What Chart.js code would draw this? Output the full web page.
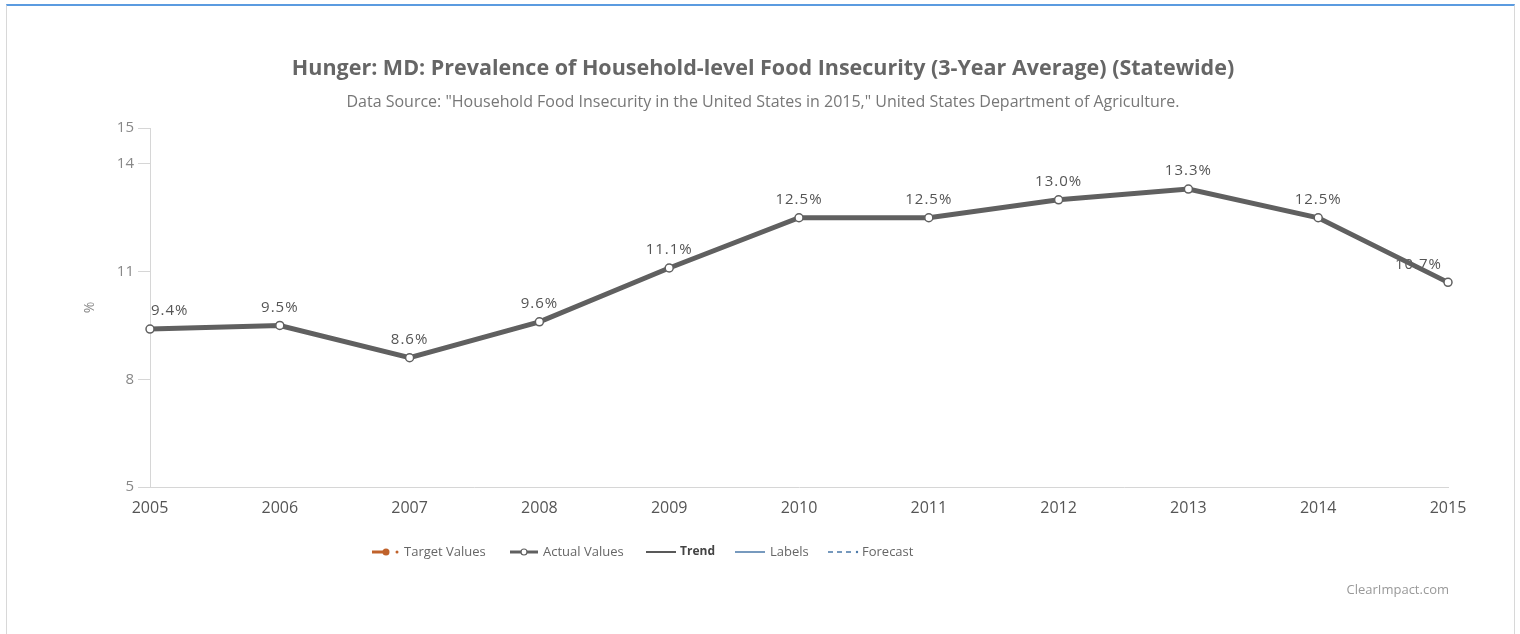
<!DOCTYPE html>
<html>
<head>
<meta charset="utf-8">
<script src="https://cdn.jsdelivr.net/npm/chart.js@4"></script>
<style>
  html, body { margin: 0; padding: 0; background: #fff; }
  #frame {
    position: absolute; left: 6px; top: 4px; width: 1509px; height: 630px;
    border-top: 2px solid #5b9be0; border-left: 1px solid #d8d8d8; border-right: 1px solid #d8d8d8;
    box-sizing: border-box;
  }
  #wrap { position: absolute; left: 0; top: 0; width: 1520px; height: 634px; }
</style>
</head>
<body>
<div id="frame"></div>
<div id="wrap"><canvas id="food_chart" width="1520" height="634"></canvas></div>
<script>
// data
const years = ['2005', '2006', '2007', '2008', '2009', '2010', '2011', '2012', '2013', '2014', '2015'];
const actualValues = [9.4, 9.5, 8.6, 9.6, 11.1, 12.5, 12.5, 13.0, 13.3, 12.5, 10.7];
const yTicks = [5, 8, 11, 14, 15];
const legendNames = ['Target Values', 'Actual Values', 'Trend', 'Labels', 'Forecast'];

const titleText = 'Hunger: MD: Prevalence of Household-level Food Insecurity (3-Year Average) (Statewide)';
const subtitleText = 'Data Source: "Household Food Insecurity in the United States in 2015," United States Department of Agriculture.';

const FONT = "'Open Sans', 'Noto Sans', sans-serif";

// value labels above points, drawn under the line like the original
const valueLabels = {
    id: 'valueLabels',
    beforeDatasetsDraw(chart) {
        const ctx = chart.ctx;
        const area = chart.chartArea;
        const meta = chart.getDatasetMeta(0);
        ctx.save();
        ctx.font = '15px ' + FONT;
        ctx.letterSpacing = '1px';
        ctx.fillStyle = '#555';
        ctx.textAlign = 'center';
        ctx.textBaseline = 'middle';
        meta.data.forEach((pt, i) => {
            const txt = actualValues[i].toFixed(1) + '%';
            const w = ctx.measureText(txt).width;
            let x = pt.x;
            x = Math.max(x, area.left + w / 2 + 1);
            x = Math.min(x, area.right - w / 2 - 6);
            ctx.fillText(txt, x, pt.y - 18);
        });
        ctx.restore();
    }
};

// custom legend + credit line
const bottomLegend = {
    id: 'bottomLegend',
    afterDraw(chart) {
        const ctx = chart.ctx;
        const y = 552;
        ctx.save();
        ctx.font = '13px ' + FONT;
        ctx.textBaseline = 'middle';
        ctx.textAlign = 'left';

        // target values
        ctx.strokeStyle = '#c0622b'; ctx.fillStyle = '#c0622b'; ctx.lineWidth = 3;
        ctx.beginPath(); ctx.moveTo(372, y); ctx.lineTo(386, y); ctx.stroke();
        ctx.beginPath(); ctx.arc(386, y, 3.5, 0, Math.PI * 2); ctx.fill();
        ctx.beginPath(); ctx.arc(397, y, 1.5, 0, Math.PI * 2); ctx.fill();
        ctx.fillStyle = '#666'; ctx.fillText(legendNames[0], 404, y);

        // actual values
        ctx.strokeStyle = '#606060'; ctx.lineWidth = 3;
        ctx.beginPath(); ctx.moveTo(510, y); ctx.lineTo(538, y); ctx.stroke();
        ctx.fillStyle = '#fff'; ctx.lineWidth = 1.2;
        ctx.beginPath(); ctx.arc(524, y, 3, 0, Math.PI * 2); ctx.fill(); ctx.stroke();
        ctx.fillStyle = '#666'; ctx.fillText(legendNames[1], 543, y);

        // trend
        ctx.strokeStyle = '#222'; ctx.lineWidth = 1.5;
        ctx.beginPath(); ctx.moveTo(646, y); ctx.lineTo(676, y); ctx.stroke();
        ctx.font = 'bold 12px ' + FONT;
        ctx.fillStyle = '#444'; ctx.fillText(legendNames[2], 680, y);
        ctx.font = '13px ' + FONT;

        // labels
        ctx.strokeStyle = '#4a78a8'; ctx.lineWidth = 1.5;
        ctx.beginPath(); ctx.moveTo(735, y); ctx.lineTo(765, y); ctx.stroke();
        ctx.fillStyle = '#666'; ctx.fillText(legendNames[3], 770, y);

        // forecast
        ctx.setLineDash([5, 4]);
        ctx.beginPath(); ctx.moveTo(828, y); ctx.lineTo(852, y); ctx.stroke();
        ctx.setLineDash([]);
        ctx.fillStyle = '#4a78a8';
        ctx.beginPath(); ctx.arc(857, y, 1.2, 0, Math.PI * 2); ctx.fill();
        ctx.fillStyle = '#666'; ctx.fillText(legendNames[4], 862, y);

        // credit
        ctx.textAlign = 'right';
        ctx.fillStyle = '#999';
        ctx.fillText('ClearImpact.com', 1449, 590);
        ctx.restore();
    }
};

const ctx = document.getElementById('food_chart').getContext('2d');
const foodChart = new Chart(ctx, {
    type: 'line',
    data: {
        labels: years,
        datasets: [{
            label: 'Actual Values',
            data: actualValues,
            borderColor: '#606060',
            borderWidth: 5,
            tension: 0,
            pointRadius: 4,
            pointBorderWidth: 1.5,
            pointBackgroundColor: '#fff',
            pointBorderColor: '#606060'
        }]
    },
    options: {
        responsive: false,
        animation: false,
        devicePixelRatio: 1,
        layout: { padding: { left: 78, right: 72, top: 0, bottom: 0 } },
        plugins: {
            legend: { display: false },
            tooltip: { enabled: false },
            title: {
                display: true,
                text: titleText,
                color: '#666',
                font: { family: FONT, size: 21.5, weight: 'bold' },
                padding: { top: 56, bottom: 11 }
            },
            subtitle: {
                display: true,
                text: subtitleText,
                color: '#777',
                font: { family: FONT, size: 16 },
                padding: { top: 0, bottom: 16 }
            }
        },
        scales: {
            x: {
                offset: false,
                grid: { display: false, drawTicks: false },
                border: { display: true, color: '#d6d6d6', width: 1 },
                ticks: {
                    color: '#555',
                    font: { family: FONT, size: 16 },
                    padding: 12,
                    maxRotation: 0
                },
                afterFit(scale) { scale.height = 634 - 487; }
            },
            y: {
                min: 5,
                max: 15,
                afterBuildTicks(scale) {
                    scale.ticks = yTicks.map(v => ({ value: v }));
                },
                afterFit(scale) { scale.width = 72; },
                grid: {
                    drawOnChartArea: false,
                    drawTicks: true,
                    tickLength: 12,
                    color: '#d6d6d6'
                },
                border: { display: true, color: '#d6d6d6', width: 1 },
                ticks: {
                    color: '#888',
                    font: { family: FONT, size: 15 },
                    padding: 4
                },
                title: {
                    display: true,
                    text: '%',
                    color: '#888',
                    font: { family: FONT, size: 14 },
                    padding: { top: 4, bottom: 0 }
                }
            }
        }
    },
    plugins: [valueLabels, bottomLegend]
});
</script>
</body>
</html>
